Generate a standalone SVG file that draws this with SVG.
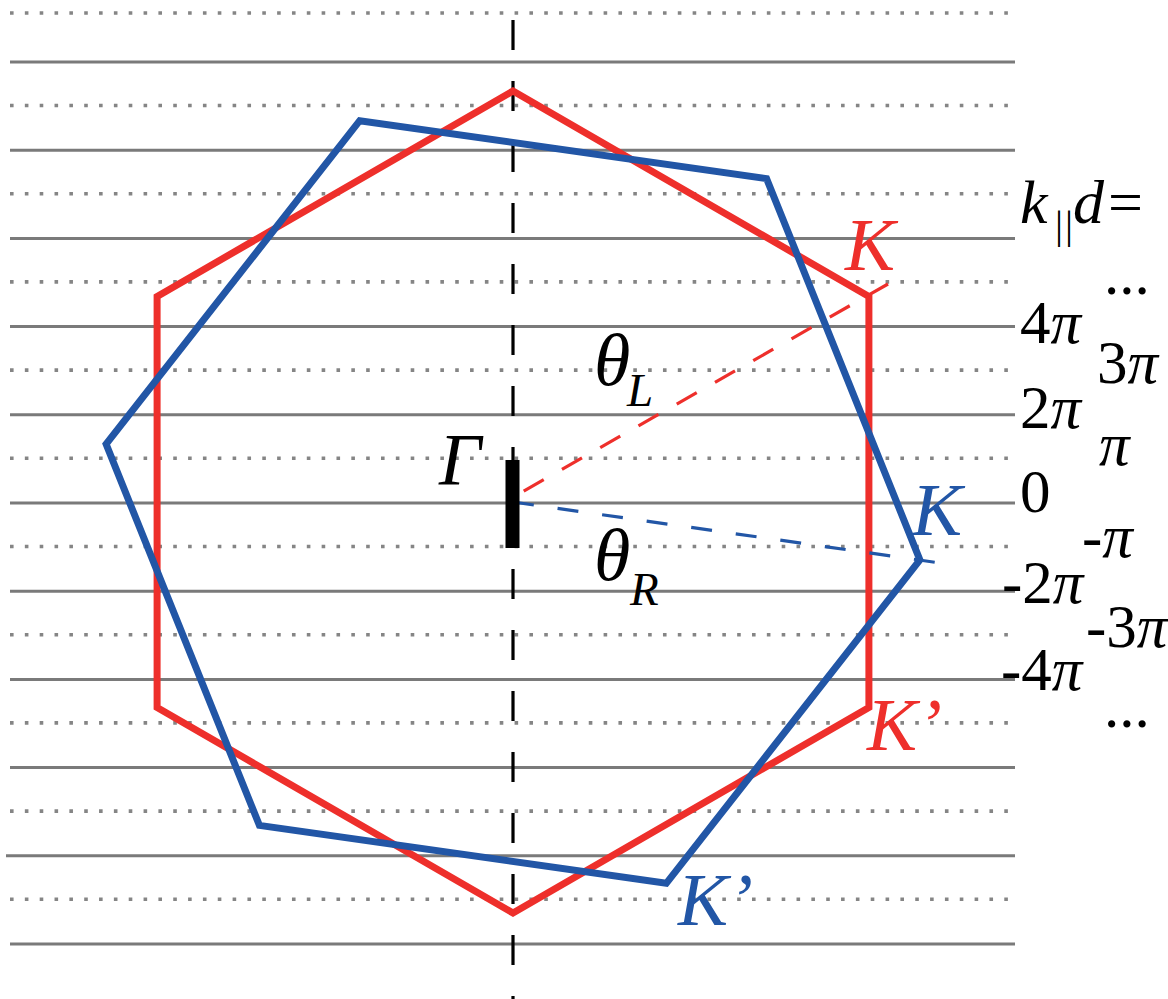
<svg xmlns="http://www.w3.org/2000/svg" width="1168" height="999" viewBox="0 0 1168 999">
<style>
.solid{stroke:#7a7a7a;stroke-width:3;fill:none}
.dot{stroke:#858585;stroke-width:3.6;stroke-dasharray:3.6 11.24;fill:none}
.hexR{stroke:#ee2f2b;stroke-width:7;fill:none;stroke-linejoin:miter}
.hexB{stroke:#2256a6;stroke-width:7;fill:none;stroke-linejoin:miter}
.t{font-family:"Liberation Serif","Times New Roman",serif;fill:#000}
.i{font-style:italic}
.num{font-size:61px}
.big{font-size:75px}
.red{fill:#ee2f2b}
.blue{fill:#2256a6}
</style>
<rect width="1168" height="999" fill="#ffffff"/>
<g id="grid">
<line class="dot" x1="10" y1="13" x2="1010" y2="13"/>
<line class="solid" x1="10" y1="62" x2="1015" y2="62"/>
<line class="dot" x1="10" y1="105.5" x2="1010" y2="105.5"/>
<line class="solid" x1="10" y1="150.2" x2="1015" y2="150.2"/>
<line class="dot" x1="10" y1="193.7" x2="1010" y2="193.7"/>
<line class="solid" x1="10" y1="238.4" x2="1015" y2="238.4"/>
<line class="dot" x1="10" y1="281.9" x2="1010" y2="281.9"/>
<line class="solid" x1="10" y1="326.6" x2="1015" y2="326.6"/>
<line class="dot" x1="10" y1="370.1" x2="1010" y2="370.1"/>
<line class="solid" x1="10" y1="414.8" x2="1015" y2="414.8"/>
<line class="dot" x1="10" y1="458.3" x2="1010" y2="458.3"/>
<line class="solid" x1="10" y1="503" x2="1015" y2="503"/>
<line class="dot" x1="10" y1="546.5" x2="1010" y2="546.5"/>
<line class="solid" x1="10" y1="591.2" x2="1015" y2="591.2"/>
<line class="dot" x1="10" y1="634.7" x2="1010" y2="634.7"/>
<line class="solid" x1="10" y1="679.4" x2="1015" y2="679.4"/>
<line class="dot" x1="10" y1="722.9" x2="1010" y2="722.9"/>
<line class="solid" x1="10" y1="767.6" x2="1015" y2="767.6"/>
<line class="dot" x1="10" y1="811.1" x2="1010" y2="811.1"/>
<line class="solid" x1="6" y1="855.8" x2="1015" y2="855.8"/>
<line class="dot" x1="10" y1="899.3" x2="1010" y2="899.3"/>
<line class="solid" x1="10" y1="944" x2="1015" y2="944"/>
</g>
<g id="axis">
<line x1="513" y1="20" x2="513" y2="999" stroke="#000" stroke-width="3.2" stroke-dasharray="30 31"/>
</g>
<g id="hex-red">
<polygon class="hexR" points="513,91 868.9,296.5 868.9,707.5 513,913 157.1,707.5 157.1,296.5"/>
</g>
<g id="hex-blue">
<polygon class="hexB" points="919.9,559.9 666.3,883.3 259.4,825.4 106.1,444.1 359.7,120.7 766.6,178.6"/>
</g>
<g id="connectors">
<line x1="888" y1="284" x2="515" y2="496" stroke="#ee2f2b" stroke-width="3.2" stroke-dasharray="23 21"/>
<line x1="513" y1="502" x2="940" y2="563" stroke="#2256a6" stroke-width="3.2" stroke-dasharray="21 24"/>
</g>
<g id="gamma">
<rect x="505.5" y="460" width="14" height="88" fill="#000"/>
<text class="t i" x="439" y="485" font-size="74">Γ</text>
</g>
<g id="theta-L">
<text class="t i" x="594" y="385" font-size="74">θ</text>
<text class="t i" x="627" y="406" font-size="47">L</text>
</g>
<g id="theta-R">
<text class="t i" x="594" y="580" font-size="74">θ</text>
<text class="t i" x="630" y="605" font-size="47">R</text>
</g>
<g id="label-K-red"><text class="t i big red" x="845" y="270">K</text></g>
<g id="label-K-blue"><text class="t i big blue" x="912" y="535">K</text></g>
<g id="label-Kp-red"><text class="t i big red" x="867" y="750">K’</text></g>
<g id="label-Kp-blue"><text class="t i big blue" x="678" y="925">K’</text></g>
<g id="scale">
<text class="t" font-size="62"><tspan class="i" x="1020" y="223">k</tspan><tspan x="1055" y="238" font-size="40" letter-spacing="2">||</tspan><tspan class="i" x="1073" y="223">d</tspan><tspan x="1108" y="223">=</tspan></text>
<text class="t num" x="1104" y="294">...</text>
<text class="t num" x="1020" y="343">4<tspan class="i">π</tspan></text>
<text class="t num" x="1097" y="383">3<tspan class="i">π</tspan></text>
<text class="t num" x="1020" y="428">2<tspan class="i">π</tspan></text>
<text class="t num i" x="1099" y="465">π</text>
<text class="t num" x="1020" y="512">0</text>
<text class="t num" x="1082" y="557">-<tspan class="i">π</tspan></text>
<text class="t num" x="1002" y="603">-2<tspan class="i">π</tspan></text>
<text class="t num" x="1086" y="647">-3<tspan class="i">π</tspan></text>
<text class="t num" x="1001" y="690">-4<tspan class="i">π</tspan></text>
<text class="t num" x="1104" y="727">...</text>
</g>
</svg>
